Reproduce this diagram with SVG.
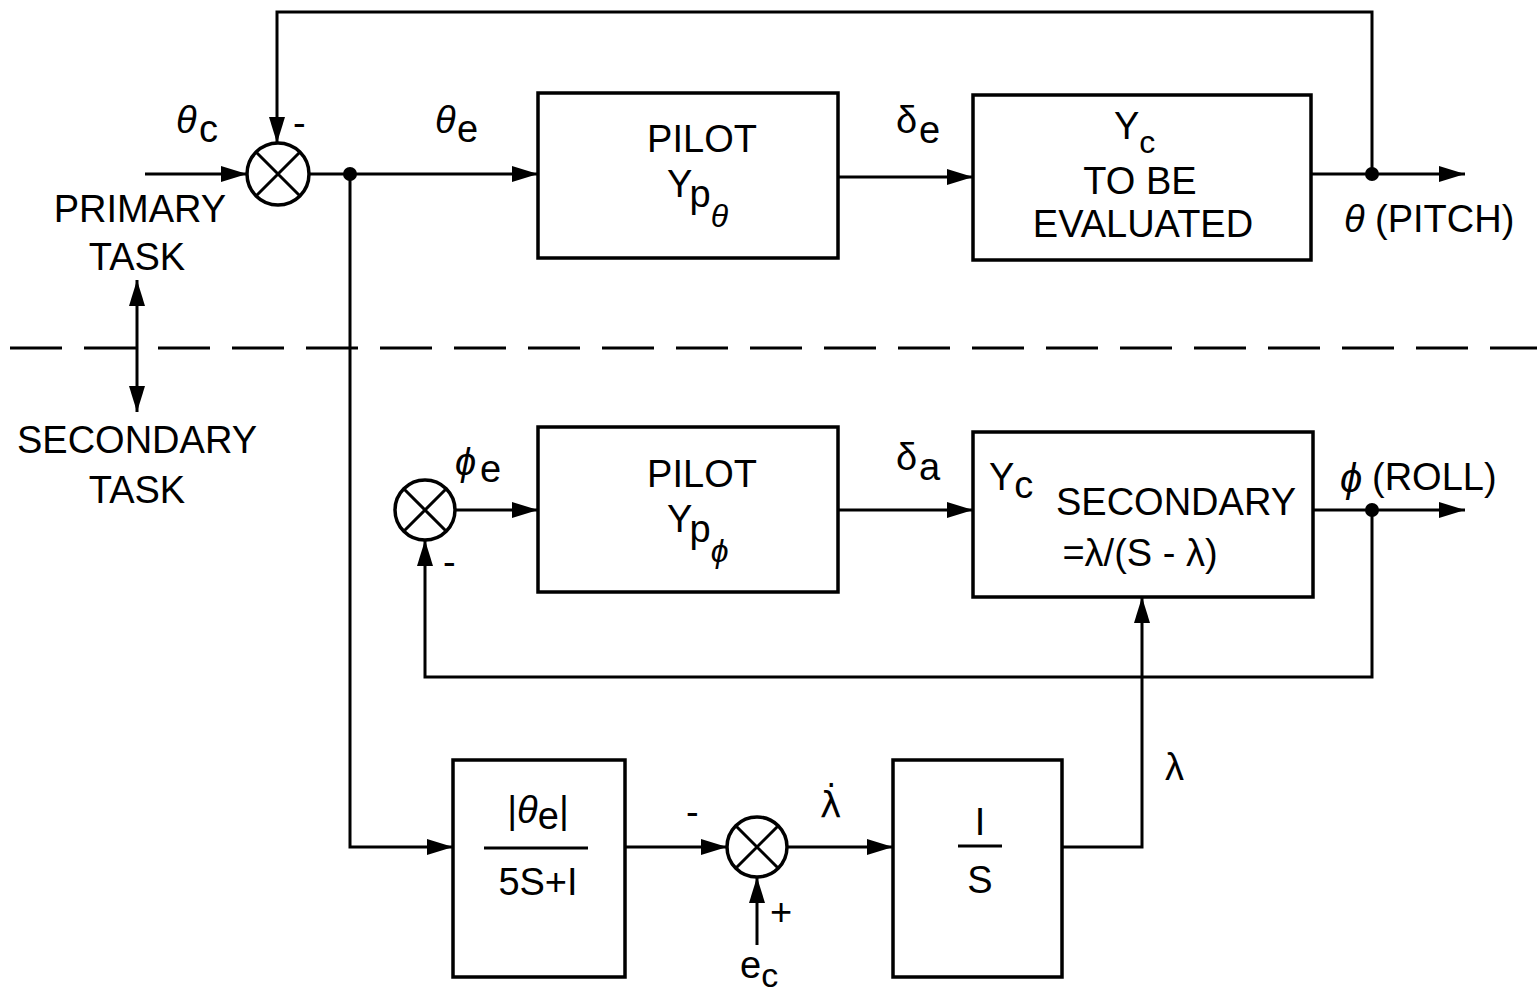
<svg xmlns="http://www.w3.org/2000/svg" width="1537" height="1001" viewBox="0 0 1537 1001">
<style>
.ln{fill:none;stroke:#000;stroke-width:3}
.bx{fill:#fff;stroke:#000;stroke-width:3.5}
.sj{fill:#fff;stroke:#000;stroke-width:3.5}
.t{font-family:"Liberation Sans",Arial,sans-serif;font-size:38px;fill:#000}
.g{font-family:"Liberation Sans",Arial,sans-serif;font-style:italic;fill:#000}
</style>
<defs>
<marker id="ah" markerUnits="userSpaceOnUse" markerWidth="26" markerHeight="16" refX="26" refY="8" orient="auto-start-reverse" viewBox="0 0 26 16">
<path d="M0,0 L26,8 L0,16 z" fill="#000"/>
</marker>
</defs>
<rect width="1537" height="1001" fill="#fff"/>

<g id="connectors">
<path class="ln" d="M145,174 H247" marker-end="url(#ah)"/>
<path class="ln" d="M1372,174 V12 H277 V143" marker-end="url(#ah)"/>
<path class="ln" d="M309,174 H538" marker-end="url(#ah)"/>
<path class="ln" d="M838,177 H973" marker-end="url(#ah)"/>
<path class="ln" d="M1311,174 H1465" marker-end="url(#ah)"/>
<path class="ln" d="M350,174 V847 H453" marker-end="url(#ah)"/>
<path class="ln" d="M455,510 H538" marker-end="url(#ah)"/>
<path class="ln" d="M838,510 H973" marker-end="url(#ah)"/>
<path class="ln" d="M1313,510 H1465" marker-end="url(#ah)"/>
<path class="ln" d="M1372,510 V677 H425 V540" marker-end="url(#ah)"/>
<path class="ln" d="M625,847 H727" marker-end="url(#ah)"/>
<path class="ln" d="M787,847 H893" marker-end="url(#ah)"/>
<path class="ln" d="M757,945 V877" marker-end="url(#ah)"/>
<path class="ln" d="M1062,847 H1142 V597" marker-end="url(#ah)"/>
<path class="ln" d="M137,280 V412" marker-start="url(#ah)" marker-end="url(#ah)"/>
<path class="ln" d="M10,348 H1537" stroke-dasharray="52 22"/>
<circle cx="350" cy="174" r="7" fill="#000"/>
<circle cx="1372" cy="174" r="7" fill="#000"/>
<circle cx="1372" cy="510" r="7" fill="#000"/>
</g>

<g id="sum-primary">
<circle class="sj" cx="278" cy="174" r="31"/>
<path class="ln" d="M256,152 L300,196 M300,152 L256,196"/>
</g>
<g id="sum-secondary">
<circle class="sj" cx="425" cy="510" r="30"/>
<path class="ln" d="M404,489 L446,531 M446,489 L404,531"/>
</g>
<g id="sum-lambda">
<circle class="sj" cx="757" cy="847" r="30"/>
<path class="ln" d="M736,826 L778,868 M778,826 L736,868"/>
</g>

<g id="pilot-theta">
<rect class="bx" x="538" y="93" width="300" height="165"/>
<text class="t" x="702" y="152" font-size="40" text-anchor="middle">PILOT</text>
<text class="t" x="667" y="197" font-size="40">Y<tspan dy="10">p</tspan><tspan class="g" font-size="32" dy="20">θ</tspan></text>
</g>

<g id="yc-evaluated">
<rect class="bx" x="973" y="95" width="338" height="165"/>
<text class="t" x="1114" y="139" font-size="34">Y<tspan dy="14" font-size="32">c</tspan></text>
<text class="t" x="1140" y="194" font-size="40" text-anchor="middle">TO  BE</text>
<text class="t" x="1143" y="237" font-size="40" text-anchor="middle">EVALUATED</text>
</g>

<g id="pilot-phi">
<rect class="bx" x="538" y="427" width="300" height="165"/>
<text class="t" x="702" y="487" font-size="40" text-anchor="middle">PILOT</text>
<text class="t" x="667" y="532" font-size="40">Y<tspan dy="10">p</tspan><tspan class="g" font-size="32" dy="20">ϕ</tspan></text>
</g>

<g id="yc-secondary">
<rect class="bx" x="973" y="432" width="340" height="165"/>
<text class="t" x="989" y="490" font-size="36">Y<tspan dy="8">c</tspan></text>
<text class="t" x="1176" y="515" font-size="38" text-anchor="middle">SECONDARY</text>
<text class="t" x="1140" y="566" font-size="38" text-anchor="middle">=λ/(S - λ)</text>
</g>

<g id="gain-block">
<rect class="bx" x="453" y="760" width="172" height="217"/>
<text class="t" x="538" y="823" font-size="38" text-anchor="middle">|<tspan class="g">θ</tspan><tspan dy="6">e</tspan><tspan dy="-6">|</tspan></text>
<path class="ln" d="M484,848 H588"/>
<text class="t" x="538" y="895" font-size="38" text-anchor="middle">5S+I</text>
</g>

<g id="integrator">
<rect class="bx" x="893" y="760" width="169" height="217"/>
<text class="t" x="980" y="835" font-size="38" text-anchor="middle">I</text>
<path class="ln" d="M958,846 H1002"/>
<text class="t" x="980" y="893" font-size="38" text-anchor="middle">S</text>
</g>

<g id="labels">
<text class="g" x="176" y="133" font-size="38">θ</text>
<text class="t" x="199" y="142" font-size="38">c</text>
<text class="t" x="293" y="136" font-size="34">-</text>
<text class="g" x="435" y="133" font-size="38">θ</text>
<text class="t" x="457" y="142" font-size="38">e</text>
<text class="t" x="896" y="133" font-size="38">δ</text>
<text class="t" x="919" y="143" font-size="38">e</text>
<text class="t" x="140" y="222" font-size="38" text-anchor="middle">PRIMARY</text>
<text class="t" x="137" y="270" font-size="38" text-anchor="middle">TASK</text>
<text class="t" x="137" y="453" font-size="38" text-anchor="middle">SECONDARY</text>
<text class="t" x="137" y="503" font-size="38" text-anchor="middle">TASK</text>
<text class="g" x="1344" y="232" font-size="38">θ</text>
<text class="t" x="1375" y="232" font-size="38">(PITCH)</text>
<text class="g" x="455" y="475" font-size="38">ϕ</text>
<text class="t" x="480" y="482" font-size="38">e</text>
<text class="t" x="896" y="470" font-size="38">δ</text>
<text class="t" x="919" y="480" font-size="38">a</text>
<text class="g" x="1340" y="492" font-size="40">ϕ</text>
<text class="t" x="1372" y="490" font-size="38">(ROLL)</text>
<text class="t" x="443" y="575" font-size="34">-</text>
<text class="t" x="686" y="825" font-size="34">-</text>
<text x="820" y="817" font-family="'DejaVu Sans',sans-serif" font-size="36" fill="#000">λ̇</text>
<text class="t" x="770" y="925" font-size="34">+</text>
<text class="t" x="740" y="978" font-size="36">e<tspan dy="9" font-size="34">c</tspan></text>
<text class="t" x="1165" y="780" font-size="38">λ</text>
</g>
</svg>
